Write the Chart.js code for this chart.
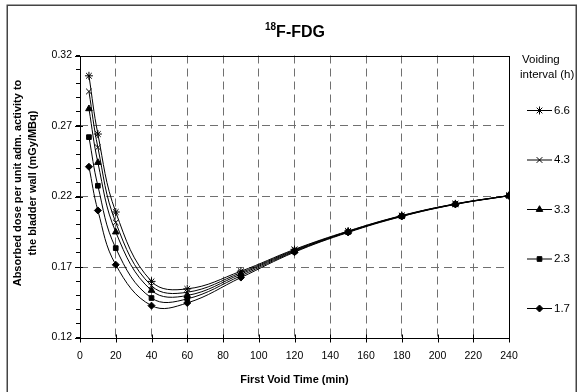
<!DOCTYPE html>
<html><head><meta charset="utf-8">
<script src="https://cdn.jsdelivr.net/npm/chart.js@4.4.0/dist/chart.umd.min.js"></script>
<style>html,body{margin:0;padding:0;background:#fff;}#wrap{width:577px;height:392px;position:relative;}</style>
</head><body><div id="wrap"><canvas id="c" width="577" height="392"></canvas></div>
<script>
// ---- data ----
const firstVoidTimes = [5, 10, 20, 40, 60, 90, 120, 150, 180, 210, 240];
const seriesLabels = ['6.6', '4.3', '3.3', '2.3', '1.7'];
const dose66 = [0.3056, 0.2643, 0.2090, 0.1598, 0.1545, 0.1670, 0.1825, 0.1955, 0.2065, 0.2148, 0.2207];
const dose43 = [0.2945, 0.2548, 0.2016, 0.1567, 0.1521, 0.1660, 0.1820, 0.1953, 0.2063, 0.2147, 0.2207];
const dose33 = [0.2822, 0.2441, 0.1948, 0.1534, 0.1498, 0.1650, 0.1815, 0.1950, 0.2062, 0.2146, 0.2206];
const dose23 = [0.2621, 0.2276, 0.1834, 0.1480, 0.1474, 0.1638, 0.1810, 0.1948, 0.2060, 0.2145, 0.2206];
const dose17 = [0.2411, 0.2101, 0.1716, 0.1426, 0.1445, 0.1625, 0.1805, 0.1945, 0.2058, 0.2144, 0.2205];
const xTickValues = [0, 20, 40, 60, 80, 100, 120, 140, 160, 180, 200, 220, 240];
const yTickLabels = ['0.12', '0.17', '0.22', '0.27', '0.32'];
const titleSup = '18';
const titleMain = 'F-FDG';
const xTitle = 'First Void Time (min)';
const yTitleLines = ['Absorbed dose per unit adm. activity to', 'the bladder wall (mGy/MBq)'];
const legendTitleLines = ['Voiding', 'interval (h)'];

const seriesValues = [dose66, dose43, dose33, dose23, dose17];
const pointStyles = ['star', 'crossRot', 'triangle', 'rect', 'rectRot'];
const pointRadii = [4, 4, 3.8, 3.3, 3.5];
const FONT = '"Liberation Sans", Arial, sans-serif';

const datasets = seriesLabels.map((lab, i) => ({
  label: lab,
  data: firstVoidTimes.map((t, j) => ({x: t, y: seriesValues[i][j]})),
  borderColor: '#000',
  borderWidth: 1,
  backgroundColor: '#000',
  pointStyle: pointStyles[i],
  pointRadius: pointRadii[i],
  pointBackgroundColor: '#000',
  pointBorderColor: '#000',
  pointBorderWidth: 1,
  tension: 0.4,
  fill: false
}));

const isMajorY = v => { const k = Math.round(v * 100); return yTickLabels.includes((k / 100).toFixed(2)); };

const decor = {
  id: 'decor',
  afterDraw(chart) {
    const ctx = chart.ctx;
    const a = chart.chartArea;
    const xs = chart.scales.x, ys = chart.scales.y;
    ctx.save();
    // outer frame
    ctx.strokeStyle = '#444';
    ctx.lineWidth = 1.5;
    ctx.strokeRect(7.25, 5.25, 569, 390);
    // plot border
    ctx.strokeStyle = '#000';
    ctx.lineWidth = 1;
    ctx.strokeRect(Math.round(a.left) + 0.5, Math.round(a.top) + 0.5, Math.round(a.right - a.left), Math.round(a.bottom - a.top));
    // major tick marks crossing axes
    ctx.beginPath();
    xTickValues.forEach(v => {
      const px = Math.round(xs.getPixelForValue(v)) + 0.5;
      ctx.moveTo(px, a.bottom - 3); ctx.lineTo(px, a.bottom + 5);
    });
    yTickLabels.forEach(s => {
      const py = Math.round(ys.getPixelForValue(parseFloat(s))) + 0.5;
      ctx.moveTo(a.left - 5, py); ctx.lineTo(a.left + 3, py);
    });
    ctx.stroke();
    // title
    ctx.fillStyle = '#000';
    ctx.textBaseline = 'alphabetic';
    ctx.font = 'bold 10px ' + FONT;
    const wSup = ctx.measureText(titleSup).width;
    ctx.font = 'bold 16px ' + FONT;
    const wMain = ctx.measureText(titleMain).width;
    const tx = 295 - (wSup + wMain) / 2;
    ctx.font = 'bold 10px ' + FONT;
    ctx.textAlign = 'left';
    ctx.fillText(titleSup, tx, 30);
    ctx.font = 'bold 16px ' + FONT;
    ctx.fillText(titleMain, tx + wSup, 37);
    // x title
    ctx.font = 'bold 11px ' + FONT;
    ctx.textAlign = 'center';
    ctx.textBaseline = 'middle';
    ctx.fillText(xTitle, (a.left + a.right) / 2, 380);
    // y title
    ctx.save();
    ctx.translate(25.5, 183);
    ctx.rotate(-Math.PI / 2);
    ctx.fillText(yTitleLines[0], 0, -7.5);
    ctx.fillText(yTitleLines[1], 0, 7.5);
    ctx.restore();
    // legend
    ctx.font = '11.5px ' + FONT;
    ctx.textAlign = 'left';
    ctx.fillText(legendTitleLines[0], 522, 60);
    ctx.fillText(legendTitleLines[1], 520, 75);
    chart.data.datasets.forEach((ds, i) => {
      const y = 110 + i * 49.5;
      ctx.strokeStyle = '#000';
      ctx.lineWidth = 1;
      ctx.beginPath();
      ctx.moveTo(527, y + 0.5); ctx.lineTo(552, y + 0.5);
      ctx.stroke();
      ctx.fillStyle = '#000';
      Chart.helpers.drawPoint(ctx, {pointStyle: ds.pointStyle, radius: ds.pointRadius, rotation: 0, borderWidth: 1}, 539.5, y + 0.5);
      ctx.fillStyle = '#000';
      ctx.fillText(ds.label, 554, y + 0.5);
    });
    ctx.restore();
  }
};

new Chart(document.getElementById('c'), {
  type: 'line',
  data: {datasets},
  options: {
    responsive: false,
    devicePixelRatio: 1,
    animation: false,
    layout: {padding: {top: 55.5, right: 68, left: 0, bottom: 0}},
    plugins: {legend: {display: false}, tooltip: {enabled: false}},
    scales: {
      x: {
        type: 'linear', min: 0, max: 240,
        afterFit: s => { s.height = 54.5; },
        afterBuildTicks: s => { s.ticks = xTickValues.map(v => ({value: v})); },
        ticks: {color: '#000', font: {family: FONT, size: 10.5}, padding: 7, maxRotation: 0, autoSkip: false},
        grid: {
          color: c => (c.tick && c.tick.value > 0 && c.tick.value < 240) ? '#707070' : 'rgba(0,0,0,0)',
          lineWidth: 1, tickColor: 'rgba(0,0,0,0)', tickLength: 5, tickBorderDash: []
        },
        border: {display: false, dash: [8, 5]}
      },
      y: {
        type: 'linear', min: 0.12, max: 0.32,
        afterFit: s => { s.width = 80; },
        ticks: {
          stepSize: 0.01, color: '#000', font: {family: FONT, size: 10.5}, padding: 4, autoSkip: false,
          callback: v => isMajorY(v) ? (Math.round(v * 100) / 100).toFixed(2) : ''
        },
        grid: {
          color: c => { const v = c.tick ? Math.round(c.tick.value * 100) : 0; return (isMajorY(c.tick ? c.tick.value : 0) && v > 12 && v < 32) ? '#707070' : 'rgba(0,0,0,0)'; },
          lineWidth: 1, tickColor: '#000', tickLength: 4, tickBorderDash: []
        },
        border: {display: false, dash: [8, 5]}
      }
    }
  },
  plugins: [decor]
});
</script>
</body></html>
